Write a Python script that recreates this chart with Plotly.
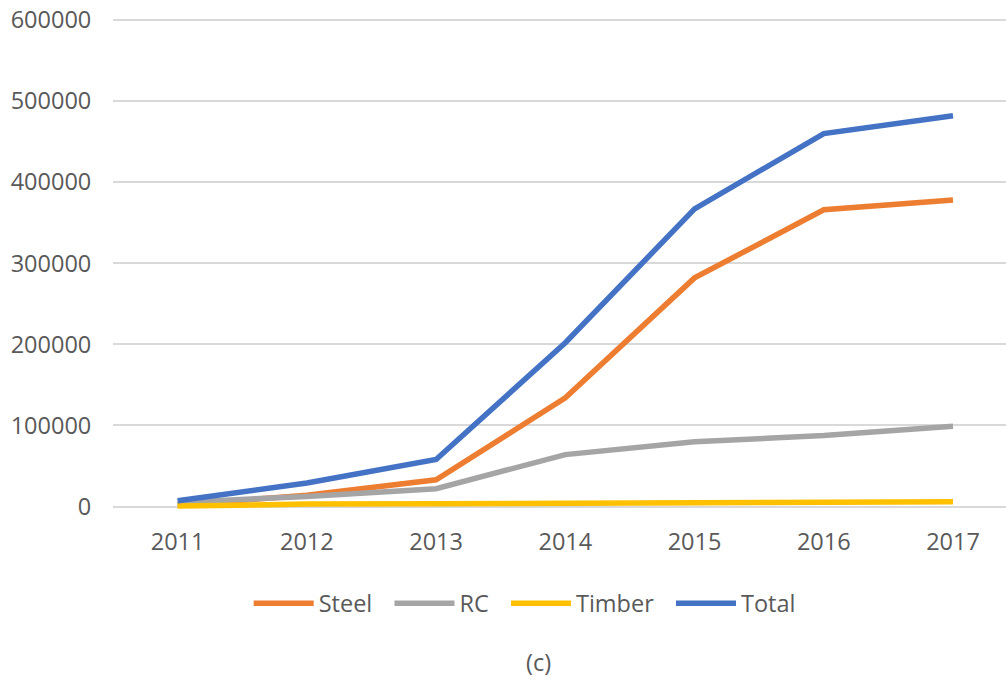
import plotly.graph_objects as go

years = ["2011", "2012", "2013", "2014", "2015", "2016", "2017"]
steel = [1500, 14000, 33000, 134000, 282000, 366000, 378000]
rc = [5000, 12500, 22000, 64000, 80000, 87500, 99000]
timber = [500, 3000, 3500, 4200, 5500, 5800, 6000]
total = [7000, 29000, 58000, 202000, 367000, 460000, 482000]
y_ticks = [0, 100000, 200000, 300000, 400000, 500000, 600000]

pad = "\u00a0\u00a0"
series = [("Steel" + pad, steel, "#ED7D31"), ("RC" + pad, rc, "#A5A5A5"),
          ("Timber" + pad, timber, "#FFC000"), ("Total", total, "#4472C4")]

fig = go.Figure()
for name, vals, col in series:
    fig.add_trace(go.Scatter(x=years, y=vals, name=name, mode="lines",
                             line=dict(color=col, width=5.5)))

font = dict(family="Open Sans, DejaVu Sans, sans-serif", size=23.5, color="#595959")
fig.update_layout(
    width=1006, height=679,
    margin=dict(l=113, r=0, t=16, b=166, autoexpand=False),
    plot_bgcolor="white", paper_bgcolor="white",
    font=font,
    showlegend=True,
    legend=dict(orientation="h", x=0.461, xanchor="center", y=-0.182, yanchor="middle",
                font=font, itemwidth=60, traceorder="normal"),
    annotations=[dict(text="(c)", x=0.476, y=-0.30, xref="paper", yref="paper",
                      showarrow=False, font=font, xanchor="center", yanchor="middle")],
)
fig.update_xaxes(type="category", range=[-0.5, 6.41], showgrid=False, showline=False,
                 zeroline=False, ticks="outside", ticklen=8, tickcolor="rgba(0,0,0,0)",
                 tickfont=font, automargin=False)
fig.update_yaxes(range=[-8000, 605000], tickvals=y_ticks, ticktext=[str(v) for v in y_ticks],
                 showgrid=True, gridcolor="#D9D9D9", gridwidth=1.5, zeroline=False,
                 showline=False, ticks="outside", ticklen=16, tickcolor="rgba(0,0,0,0)",
                 tickfont=font, automargin=False)
fig.write_html("out.html", config={"displayModeBar": False},
               post_script="document.body.style.margin='0';")
